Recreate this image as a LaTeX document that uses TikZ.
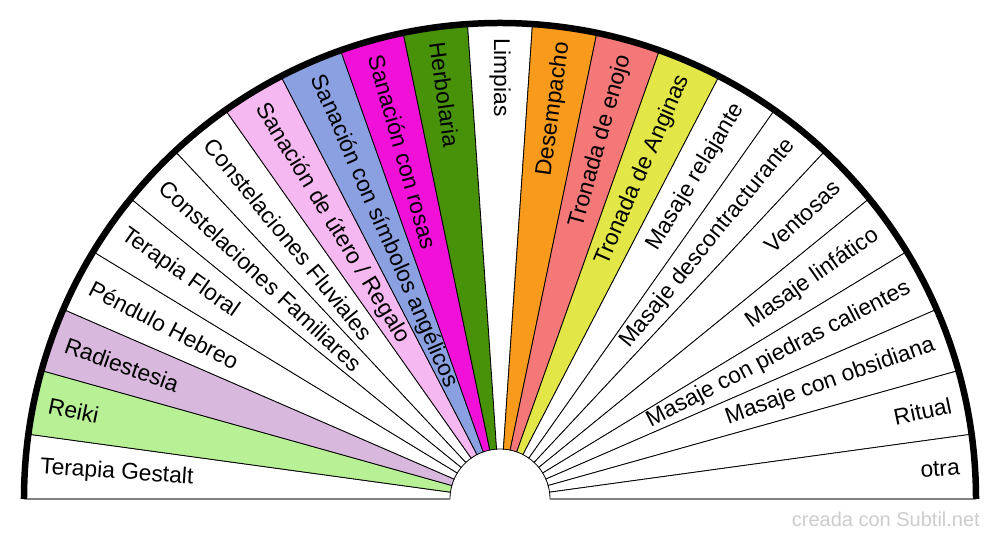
\documentclass[tikz,border=0pt]{standalone}
\usepackage{fontspec}
\setmainfont{Liberation Sans}
\usepackage{xcolor}

\definecolor{reiki}{RGB}{184,240,150}
\definecolor{radiest}{RGB}{216,184,220}
\definecolor{utero}{RGB}{245,184,240}
\definecolor{angel}{RGB}{138,160,224}
\definecolor{rosas}{RGB}{240,16,216}
\definecolor{herbo}{RGB}{72,146,10}
\definecolor{desemp}{RGB}{248,154,28}
\definecolor{enojo}{RGB}{244,120,120}
\definecolor{anginas}{RGB}{226,230,70}

\begin{document}
\begin{tikzpicture}[x=1pt, y=1pt]
    \useasboundingbox (-500,-41) rectangle (500,499);
    \def\w{7.826087}

    % Sectors
    \foreach \i/\col in {0/white, 1/reiki, 2/radiest, 3/white, 4/white, 5/white,
                         6/white, 7/utero, 8/angel, 9/rosas, 10/herbo, 11/white,
                         12/desemp, 13/enojo, 14/anginas, 15/white, 16/white,
                         17/white, 18/white, 19/white, 20/white, 21/white, 22/white} {
        \pgfmathsetmacro{\a}{180-\i*\w}
        \pgfmathsetmacro{\b}{180-(\i+1)*\w}
        \draw[fill=\col, line width=0.8] (\a:50) -- (\a:476)
            arc[start angle=\a, end angle=\b, radius=476] -- (\b:50)
            arc[start angle=\b, end angle=\a, radius=50] -- cycle;
    }

    % Rim and base
    \draw[line width=6.5] (180:476) arc[start angle=180, end angle=0, radius=476];
    \draw[gray, line width=1.5] (180:50) -- (180:472.5);
    \draw[gray, line width=1.5] (0:50) -- (0:472.5);

    % Labels
    \foreach \i/\txt in {0/Terapia Gestalt, 1/Reiki, 2/Radiestesia, 3/Péndulo Hebreo,
                         4/Terapia Floral, 5/Constelaciones Familiares,
                         6/Constelaciones Fluviales, 7/{Sanación de útero / Regalo},
                         8/Sanación con símbolos angélicos, 9/Sanación con rosas,
                         10/Herbolaria, 11/Limpias} {
        \pgfmathsetmacro{\c}{180-(\i+0.5)*\w}
        \node[anchor=west, inner sep=0, rotate=\c-180, font=\fontsize{22.8}{27}\selectfont]
            (lab\i) at (\c:461) {\txt};
    }
    \foreach \i/\txt in {12/Desempacho, 13/Tronada de enojo, 14/Tronada de Anginas,
                         15/Masaje relajante, 16/Masaje descontracturante, 17/Ventosas,
                         18/Masaje linfático, 19/Masaje con piedras calientes,
                         20/Masaje con obsidiana, 21/Ritual, 22/otra} {
        \pgfmathsetmacro{\c}{180-(\i+0.5)*\w}
        \node[anchor=east, inner sep=0, rotate=\c, font=\fontsize{22.8}{27}\selectfont]
            (lab\i) at (\c:461) {\txt};
    }

    % Credit
    \node[anchor=east, inner sep=0, text=black!20, font=\fontsize{20}{24}\selectfont]
        (credit) at (480,-20) {creada con Subtil.net};
\end{tikzpicture}
\end{document}
